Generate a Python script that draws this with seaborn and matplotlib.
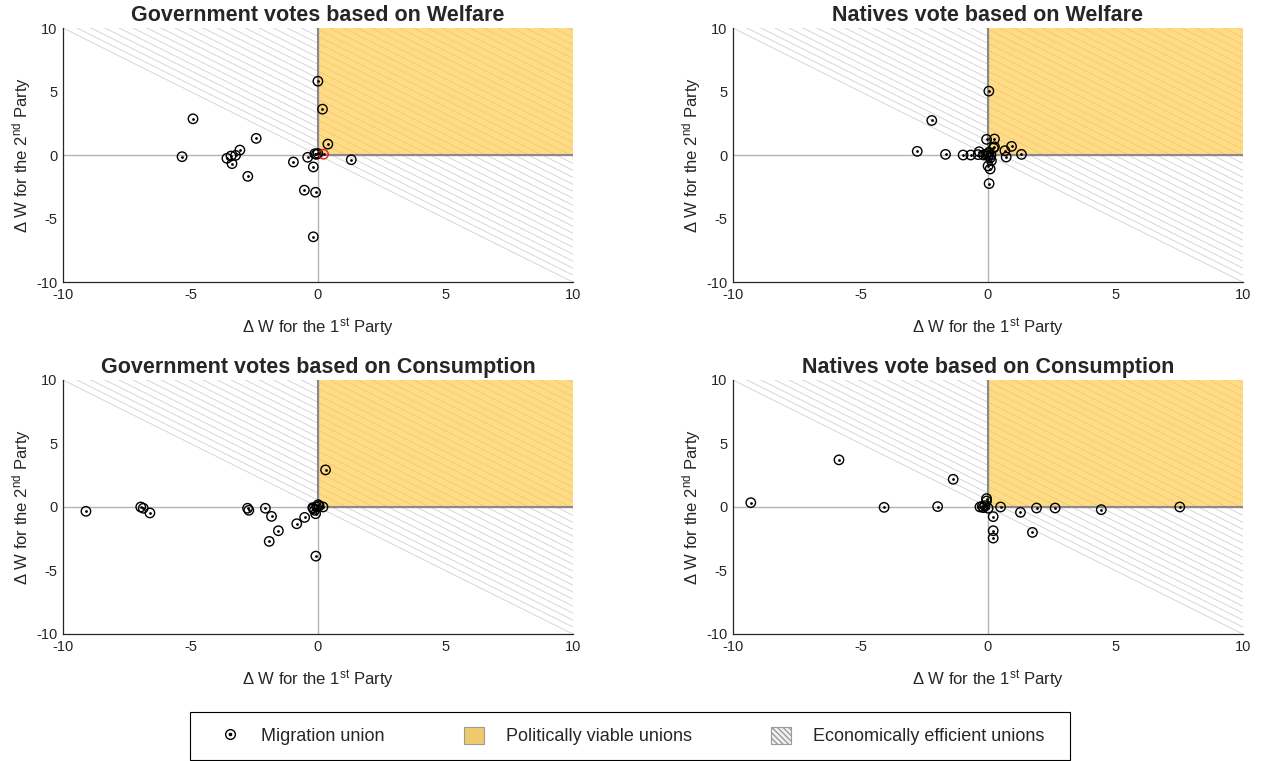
import numpy as np
import seaborn as sns
import matplotlib.pyplot as plt
from matplotlib.lines import Line2D
from matplotlib.patches import Rectangle, Patch

sns.set_theme(style='white')
plt.rcParams['font.family'] = ['Liberation Sans', 'DejaVu Sans']
plt.rcParams['mathtext.fontset'] = 'custom'
plt.rcParams['mathtext.rm'] = 'Liberation Sans'
plt.rcParams['mathtext.it'] = 'Liberation Sans:italic'

# valeurs (Delta W partie 1, Delta W partie 2)
gov_welfare_x = [0.0, 0.18, 0.39, 1.31, -4.9, -2.42, -5.33, -3.57, -3.41, -3.23, -3.06,
                 -3.37, -2.75, -0.96, -0.40, -0.18, -0.53, -0.09, -0.18, -0.12, -0.06, 0.0]
gov_welfare_y = [5.81, 3.61, 0.86, -0.37, 2.85, 1.31, -0.13, -0.26, -0.08, -0.03, 0.39,
                 -0.68, -1.68, -0.55, -0.18, -0.94, -2.77, -2.93, -6.44, 0.10, 0.05, 0.12]
gov_welfare_red_x = [0.22]
gov_welfare_red_y = [0.06]

nat_welfare_x = [0.04, -2.2, -2.77, -1.66, -0.97, -0.67, -0.34, -0.38, -0.17, -0.05, 0.26,
                 0.26, 0.22, 0.67, 0.93, 1.32, 0.72, 0.14, 0.09, 0.01, 0.09, 0.05, 0.04,
                 0.12, -0.08, 0.02]
nat_welfare_y = [5.03, 2.72, 0.29, 0.05, 0.0, 0.0, 0.26, 0.03, 0.0, 1.23, 1.26,
                 0.65, 0.55, 0.34, 0.68, 0.05, -0.16, -0.45, -0.24, -0.86, -1.1, -2.25, 0.21,
                 0.0, 0.05, -0.05]

gov_cons_x = [0.30, -9.1, -6.95, -6.85, -6.59, -2.76, -2.71, -2.06, -1.82, -1.55, -1.91,
              -0.83, -0.52, -0.08, 0.01, 0.20, -0.18, -0.13, -0.09, -0.2, -0.05, 0.05]
gov_cons_y = [2.92, -0.34, 0.0, -0.1, -0.47, -0.1, -0.26, -0.1, -0.74, -1.87, -2.71,
              -1.32, -0.82, -3.87, 0.18, 0.0, -0.13, -0.26, -0.53, -0.05, 0.0, 0.08]

nat_cons_x = [-5.84, -1.36, -9.3, -4.07, -1.97, 0.5, 1.28, 1.91, 2.64, 4.45, 7.53,
              1.75, 0.21, 0.21, 0.21, -0.05, -0.05, -0.31, -0.22, -0.12, 0.01, -0.18]
nat_cons_y = [3.71, 2.18, 0.34, -0.03, 0.03, 0.0, -0.42, -0.08, -0.08, -0.21, 0.0,
              -2.0, -0.76, -1.87, -2.45, 0.66, 0.47, 0.0, 0.05, 0.10, -0.10, -0.05]

titles = ['Government votes based on Welfare', 'Natives vote based on Welfare',
          'Government votes based on Consumption', 'Natives vote based on Consumption']
ticks = [-10, -5, 0, 5, 10]
tick_labels = ['-10', '-5', '0', '5', '10']
legend_labels = ['Migration union', 'Politically viable unions', 'Economically efficient unions']

yellow = (1.0, 0.78, 0.25)
hatch_gray = '#d0d0d0'


def migration_points(ax, x, y, color='black'):
    sns.scatterplot(x=x, y=y, ax=ax, marker='o', s=46, facecolor='none',
                    edgecolor=color, linewidth=1.0, zorder=5)
    sns.scatterplot(x=x, y=y, ax=ax, marker='o', s=4, color='black',
                    linewidth=0, zorder=6)


def panel(ax, x, y, title):
    # hachures : zone x + y >= 0 (unions economiquement efficaces)
    for c in np.arange(0, 20.01, 0.55):
        ax.plot([c - 10, 10], [10, c - 10], color=hatch_gray, lw=0.6, zorder=1)
    # zone politiquement viable
    ax.add_patch(Rectangle((0, 0), 10, 10, facecolor=yellow, alpha=0.64,
                           edgecolor='none', zorder=2))
    ax.axhline(0, color='#b4b4b4', lw=1.0, zorder=2.5)
    ax.axvline(0, color='#b4b4b4', lw=1.0, zorder=2.5)
    ax.plot([0, 0], [0, 10], color='#8a8a8a', lw=1.5, zorder=3)
    ax.plot([0, 10], [0, 0], color='#8a8a8a', lw=1.5, zorder=3)

    migration_points(ax, x, y)

    ax.set_xlim(-10, 10)
    ax.set_ylim(-10, 10)
    ax.set_xticks(ticks)
    ax.set_xticklabels(tick_labels)
    ax.set_yticks(ticks)
    ax.set_yticklabels(tick_labels)
    ax.tick_params(direction='in', length=4, width=0.8, colors='#262626',
                   labelsize=10.5, pad=4)
    for s in ['top', 'right']:
        ax.spines[s].set_visible(False)
    for s in ['left', 'bottom']:
        ax.spines[s].set_color('#262626')
        ax.spines[s].set_linewidth(0.9)
    ax.set_title(title, fontsize=15.5, fontweight='bold', pad=5)
    ax.set_xlabel('Δ W for the 1$^{\\rm st}$ Party', fontsize=12, labelpad=11)
    ax.set_ylabel('Δ W for the 2$^{\\rm nd}$ Party', fontsize=12, labelpad=2)


fig = plt.figure(figsize=(12.65, 7.61), dpi=100)
w, h = 0.403, 0.3338
ax1 = fig.add_axes([0.0498, 0.6294, w, h])
ax2 = fig.add_axes([0.5794, 0.6294, w, h])
ax3 = fig.add_axes([0.0498, 0.1669, w, h])
ax4 = fig.add_axes([0.5794, 0.1669, w, h])

panel(ax1, gov_welfare_x, gov_welfare_y, titles[0])
migration_points(ax1, gov_welfare_red_x, gov_welfare_red_y, color='#e0201b')
panel(ax2, nat_welfare_x, nat_welfare_y, titles[1])
panel(ax3, gov_cons_x, gov_cons_y, titles[2])
panel(ax4, nat_cons_x, nat_cons_y, titles[3])

# legende commune (cadre dessine a part)
h_circle = Line2D([], [], marker='o', ls='none', markersize=7, markerfacecolor='none',
                  markeredgecolor='black', markeredgewidth=1.0)
h_dot = Line2D([], [], marker='o', ls='none', markersize=1.6, color='black')
h_yellow = Patch(facecolor='#efca6a', edgecolor='#9a9a9a', lw=0.8)
h_hatch = Patch(facecolor='#f2f2f2', edgecolor='#9a9a9a', hatch='\\\\\\\\\\\\', lw=0.8)
fig.legend([(h_circle, h_dot), h_yellow, h_hatch], legend_labels,
           loc='center', bbox_to_anchor=(0.4995, 0.0329), ncol=3,
           fontsize=13, frameon=False, handlelength=1.1, handleheight=1.1,
           handletextpad=1.2, columnspacing=4.4, borderpad=0.6, borderaxespad=0)
fig.patches.append(Rectangle((190 / 1265, 1 / 761), 880 / 1265, 48 / 761,
                             transform=fig.transFigure, fill=False,
                             edgecolor='black', lw=0.8))

plt.savefig('out.png', dpi=100)
